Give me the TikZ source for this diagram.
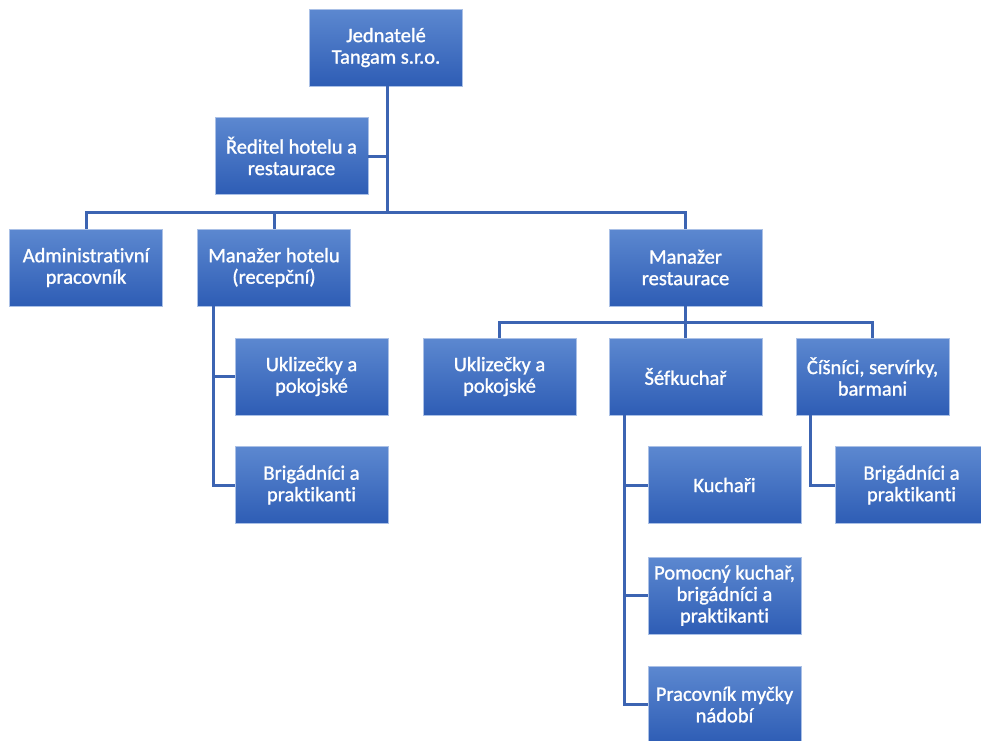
\documentclass[tikz,border=0pt]{standalone}
\usepackage{fontspec}
\setmainfont{Carlito}[Ligatures={NoCommon},FakeBold=1.2]
\definecolor{boxtop}{RGB}{92,136,208}
\definecolor{boxbot}{RGB}{46,93,181}
\definecolor{boxedge}{RGB}{170,192,230}
\definecolor{linecol}{RGB}{60,100,178}
\tikzset{
  orgbox/.style={rectangle, minimum width=153pt, minimum height=77pt, inner sep=2pt,
    top color=boxtop, bottom color=boxbot, draw=boxedge, line width=0.6pt,
    text=white, align=center, font=\fontsize{20.5}{21.5}\selectfont},
  link/.style={draw=linecol, line width=3pt}
}
\begin{document}
\begin{tikzpicture}[x=1pt,y=-1pt]
\clip (0,0) rectangle (981,740);
\fill[white] (0,0) rectangle (981,740);
\node[orgbox] (jed) at (386,47.5) {Jednatelé\\Tangam s.r.o.};
\node[orgbox] (red) at (291.5,156) {Ředitel hotelu a\\restaurace};
\node[orgbox] (adm) at (86,267.5) {Administrativní\\pracovník};
\node[orgbox] (mh) at (274,267.5) {Manažer hotelu\\(recepční)};
\node[orgbox] (mr) at (685.5,267.5) {Manažer\\restaurace};
\node[orgbox] (uh) at (311.5,376.5) {Uklizečky a\\pokojské};
\node[orgbox] (bh) at (311.5,485) {Brigádníci a\\praktikanti};
\node[orgbox] (ur) at (499.5,376.5) {Uklizečky a\\pokojské};
\node[orgbox] (sef) at (685.5,376.5) {Šéfkuchař};
\node[orgbox] (cis) at (872.5,376.5) {Číšníci, servírky,\\barmani};
\node[orgbox] (kuc) at (724.5,485) {Kuchaři};
\node[orgbox] (pom) at (724.5,595.5) {Pomocný kuchař,\\brigádníci a\\praktikanti};
\node[orgbox] (prac) at (724.5,704.5) {Pracovník myčky\\nádobí};
\node[orgbox] (bc) at (911.5,485) {Brigádníci a\\praktikanti};
\coordinate (bus1) at (387,212);
\coordinate (bus2) at (685.5,322);
\coordinate (hx) at (213,306);
\coordinate (sx) at (624,415);
\coordinate (cx) at (810,415);
\path[link] (jed.south -| bus1) -- (bus1);
\path[link] (red.east) -- (red.east -| bus1);
\path[link] (adm.north) |- (bus1) -| (mr.north);
\path[link] (mh.north) -- (mh.north |- bus1);
\path[link] (mr.south) -- (sef.north);
\path[link] (ur.north) |- (bus2) -| (cis.north);
\path[link] (hx) |- (uh.west);
\path[link] (hx) |- (bh.west);
\path[link] (sx) |- (kuc.west);
\path[link] (sx) |- (pom.west);
\path[link] (sx) |- (prac.west);
\path[link] (cx) |- (bc.west);
\end{tikzpicture}
\end{document}
